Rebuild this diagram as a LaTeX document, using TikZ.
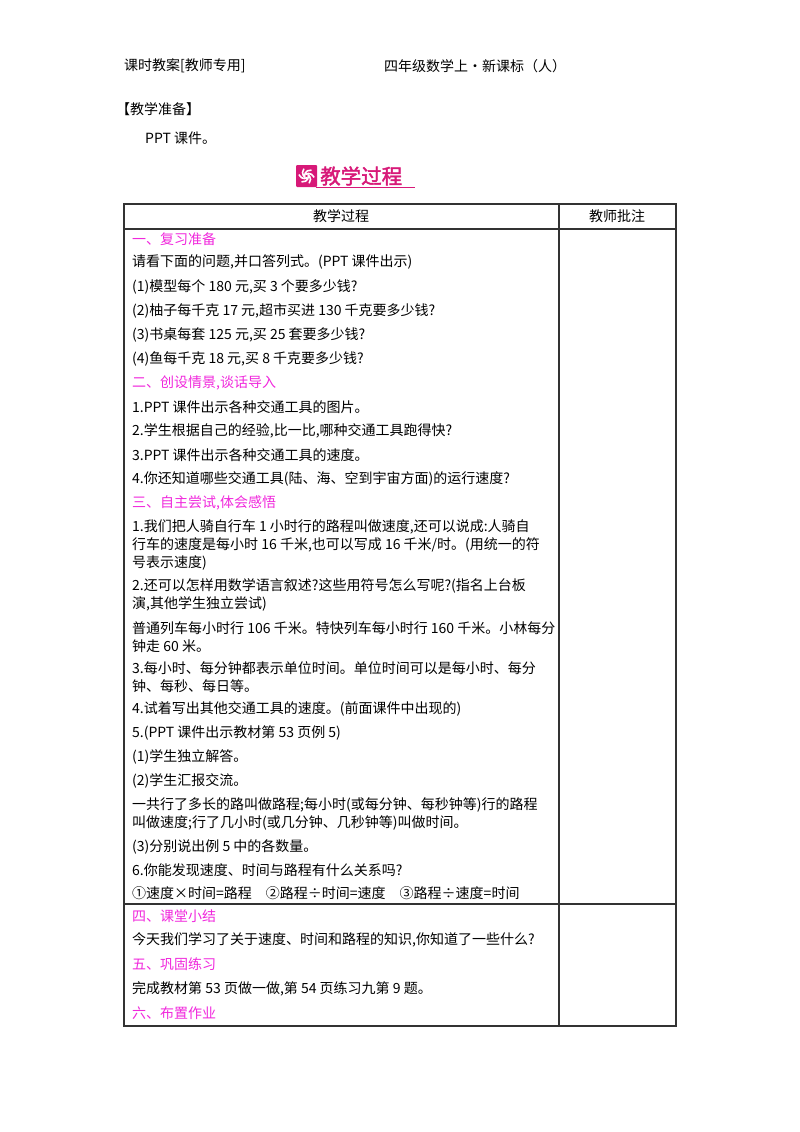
\documentclass[tikz,border=0pt]{standalone}
\usepackage{fontspec}
\setmainfont{Noto Sans CJK SC}
\newfontfamily\cjkb[FakeBold=2]{Noto Sans CJK SC}
\definecolor{mag}{RGB}{240,40,220}
\definecolor{rosered}{RGB}{215,25,120}
\tikzset{ln/.style={anchor=west,inner sep=0pt,font=\fontsize{14}{15}\selectfont},
 sec/.style={ln,text=mag},
 tb/.style={line width=1.2pt,draw=black!80}}
\begin{document}
\begin{tikzpicture}[x=1pt,y=-1pt]
\useasboundingbox (0,0) rectangle (800,1132);
\node[ln] (h1) at (124,66) {课时教案[教师专用]};
\node[ln] (h2) at (384,66) {四年级数学上·新课标（人）};
\node[ln] (p1) at (116,109) {【教学准备】};
\node[ln] (p2) at (145,138) {PPT 课件。};
% title
\fill[rosered,rounded corners=1pt] (296,165) rectangle (317,187);
\foreach \a in {0,60,...,300}{\draw[white,line width=1.6pt] (306.5,176) ++(\a:2) arc[start angle=\a,end angle=\a+100,radius=6];}
\node[anchor=west,inner sep=0pt,text=rosered,font=\cjkb\fontsize{20.5}{22}\selectfont] (tt) at (320,176) {教学过程};
\draw[rosered,line width=0.8pt] (316,187.5) -- (415,187.5);
% table
\draw[tb] (124,204) rectangle (676,1026);
\draw[tb] (559,204) -- (559,1026);
\draw[tb] (124,229) -- (676,229);
\draw[tb] (124,904) -- (676,904);
\node[ln] (c1) at (341,216) [anchor=center] {教学过程};
\node[ln] (c2) at (617,216) [anchor=center] {教师批注};
\foreach \y/\t in {
262/{请看下面的问题,并口答列式。(PPT 课件出示)},
287/{(1)模型每个 180 元,买 3 个要多少钱?},
311/{(2)柚子每千克 17 元,超市买进 130 千克要多少钱?},
335/{(3)书桌每套 125 元,买 25 套要多少钱?},
359/{(4)鱼每千克 18 元,买 8 千克要多少钱?},
407/{1.PPT 课件出示各种交通工具的图片。},
431/{2.学生根据自己的经验,比一比,哪种交通工具跑得快?},
455/{3.PPT 课件出示各种交通工具的速度。},
479/{4.你还知道哪些交通工具(陆、海、空到宇宙方面)的运行速度?},
527/{1.我们把人骑自行车 1 小时行的路程叫做速度,还可以说成:人骑自},
545/{行车的速度是每小时 16 千米,也可以写成 16 千米/时。(用统一的符},
563/{号表示速度)},
586/{2.还可以怎样用数学语言叙述?这些用符号怎么写呢?(指名上台板},
604/{演,其他学生独立尝试)},
628/{普通列车每小时行 106 千米。特快列车每小时行 160 千米。小林每分},
646/{钟走 60 米。},
668/{3.每小时、每分钟都表示单位时间。单位时间可以是每小时、每分},
686/{钟、每秒、每日等。},
709/{4.试着写出其他交通工具的速度。(前面课件中出现的)},
733/{5.(PPT 课件出示教材第 53 页例 5)},
757/{(1)学生独立解答。},
781/{(2)学生汇报交流。},
805/{一共行了多长的路叫做路程;每小时(或每分钟、每秒钟等)行的路程},
823/{叫做速度;行了几小时(或几分钟、几秒钟等)叫做时间。},
847/{(3)分别说出例 5 中的各数量。},
870/{6.你能发现速度、时间与路程有什么关系吗?},
893/{①速度×时间=路程\quad ②路程÷时间=速度\quad ③路程÷速度=时间},
940/{今天我们学习了关于速度、时间和路程的知识,你知道了一些什么?},
989/{完成教材第 53 页做一做,第 54 页练习九第 9 题。}}
{\node[ln] at (132,\y) {\t};}
\foreach \y/\t in {239/{一、复习准备},383/{二、创设情景,谈话导入},503/{三、自主尝试,体会感悟},916/{四、课堂小结},964/{五、巩固练习},1013/{六、布置作业}}
{\node[sec] at (132,\y) {\t};}
\end{tikzpicture}
\end{document}
